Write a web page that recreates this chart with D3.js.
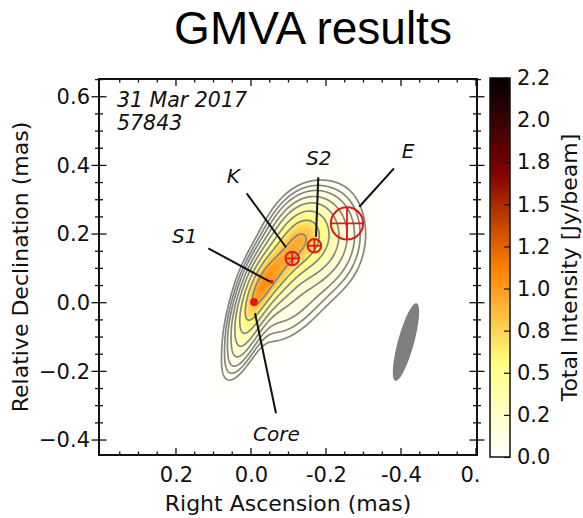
<!DOCTYPE html>
<html><head><meta charset="utf-8">
<script src="https://cdn.jsdelivr.net/npm/d3@7"></script>
<style>
html,body{margin:0;padding:0;background:#fff;}
svg{display:block;}
</style></head><body>
<svg id="chart" width="583" height="518"></svg>
<script>
// Map extent in mas (RA increases to the left)
const raLimits = [0.4053, -0.6027];
const decLimits = [-0.4436, 0.6517];

const raTickValues = [0.2, 0.0, -0.2, -0.4, -0.6];
const raTickLabels = ["0.2", "0.0", "-0.2", "-0.4", "0."];
const decTickValues = [0.6, 0.4, 0.2, 0.0, -0.2, -0.4];
const decTickLabels = ["0.6", "0.4", "0.2", "0.0", "\u22120.2", "\u22120.4"];

// Colour bar (Jy/beam)
const cbarMax = 2.2;
const cbarTickValues = [0, 0.2444, 0.4889, 0.7333, 0.9778, 1.2222, 1.4667, 1.7111, 1.9556, 2.2];
const cbarTickLabels = ["0.0", "0.2", "0.5", "0.8", "1.0", "1.2", "1.5", "1.8", "2.0", "2.2"];

// Restored brightness: elliptical Gaussian components (mas, Jy/beam, deg)
const compX     = [-0.0107, -0.064,  -0.1307,  0.024,  -0.1787, -0.2507, -0.1093];
const compY     = [ 0.0079,  0.0894,  0.1887, -0.1232,  0.1767,  0.2118, -0.0154];
const compPeak  = [ 0.65,    0.65,    0.55,    0.12,    0.30,    0.03,    0.10];
const compMajor = [ 0.078,   0.069,   0.066,   0.069,   0.080,   0.097,   0.083];
const compMinor = [ 0.025,   0.036,   0.042,   0.022,   0.057,   0.042,   0.044];
const compPA    = [ -20,     -25,     -20,     -20,     -10,     0,       -40];

// Contour levels (Jy/beam)
const contourLevels = [0.04, 0.065, 0.1, 0.16, 0.25, 0.4, 0.6, 0.85];

// Model-fit component positions (mas) and radii (mas)
const markerNames = ["Core", "S1", "K", "S2", "E"];
const markerX = [-0.008, -0.055, -0.110, -0.169, -0.256];
const markerY = [ 0.002,  0.061,  0.129,  0.166,  0.231];
const markerRadius = [0.0105, 0.0055, 0.018, 0.018, 0.043];
const markerKind = ["dot", "dot", "ring", "ring", "ring"];

// Restoring beam (full axes in mas, PA deg)
const beamX = -0.4133, beamY = -0.1145;
const beamMajor = 0.233, beamMinor = 0.043, beamPA = -14;

const epochLines = ["31 Mar 2017", "57843"];

// ---------------------------------------------------------------
const FONT = "DejaVu Sans, sans-serif";
const svg = d3.select("#chart");
const frame = {left: 99, top: 79, right: 477, bottom: 455};
const x = d3.scaleLinear().domain(raLimits).range([frame.left, frame.right]);
const y = d3.scaleLinear().domain(decLimits).range([frame.bottom, frame.top]);

function afmhotR(v) {
  const t = Math.max(0, Math.min(1, v / cbarMax));
  const s = 1 - t;
  const c = a => Math.max(0, Math.min(1, a));
  return [c(2 * s), c(2 * s - 0.5), c(2 * s - 1)];
}

function brightness(ra, dec) {
  let sum = 0;
  for (let k = 0; k < compX.length; k++) {
    const th = compPA[k] * Math.PI / 180;
    const dx = ra - compX[k], dy = dec - compY[k];
    const u = dx * Math.sin(th) + dy * Math.cos(th);
    const v = dx * Math.cos(th) - dy * Math.sin(th);
    sum += compPeak[k] * Math.exp(-0.5 * ((u / compMajor[k]) ** 2 + (v / compMinor[k]) ** 2));
  }
  return sum;
}

// Sample the map on the pixel grid of the axes
const nx = frame.right - frame.left, ny = frame.bottom - frame.top;
const values = new Float64Array(nx * ny);
for (let j = 0; j < ny; j++) {
  const dec = y.invert(frame.top + j + 0.5);
  for (let i = 0; i < nx; i++) {
    values[j * nx + i] = brightness(x.invert(frame.left + i + 0.5), dec);
  }
}

const canvas = document.createElement("canvas");
canvas.width = nx; canvas.height = ny;
const ctx = canvas.getContext("2d");
const img = ctx.createImageData(nx, ny);
for (let p = 0; p < values.length; p++) {
  const [r, g, b] = afmhotR(values[p]);
  img.data[4 * p] = Math.round(r * 255);
  img.data[4 * p + 1] = Math.round(g * 255);
  img.data[4 * p + 2] = Math.round(b * 255);
  img.data[4 * p + 3] = 255;
}
ctx.putImageData(img, 0, 0);

const defs = svg.append("defs");
defs.append("clipPath").attr("id", "axclip")
  .append("rect").attr("x", frame.left).attr("y", frame.top)
  .attr("width", nx).attr("height", ny);

const plot = svg.append("g").attr("clip-path", "url(#axclip)");
plot.append("image")
  .attr("x", frame.left).attr("y", frame.top)
  .attr("width", nx).attr("height", ny)
  .attr("preserveAspectRatio", "none")
  .attr("href", canvas.toDataURL());

const contours = d3.contours().size([nx, ny]).thresholds(contourLevels)(values);
const cpath = d3.geoPath(d3.geoIdentity().translate([frame.left, frame.top]));
plot.append("g").selectAll("path").data(contours).join("path")
  .attr("d", cpath).attr("fill", "none")
  .attr("stroke", "#858585").attr("stroke-width", 1.7).attr("stroke-linejoin", "round");

// Restoring beam
const beamPts = d3.range(0, 361, 4).map(a => {
  const t = a * Math.PI / 180, th = beamPA * Math.PI / 180;
  const u = beamMajor / 2 * Math.cos(t), v = beamMinor / 2 * Math.sin(t);
  return [x(beamX + u * Math.sin(th) + v * Math.cos(th)), y(beamY + u * Math.cos(th) - v * Math.sin(th))];
});
plot.append("path").attr("d", d3.line()(beamPts) + "Z").attr("fill", "#7f7f7f");

// Annotation leader lines and labels (mas)
const annotations = [
  {name: "K",    from: [0.0115, 0.3187],  to: [-0.0933, 0.1616], label: [0.0648, 0.3487]},
  {name: "S2",   from: [-0.1795, 0.3653], to: [-0.1733, 0.1923], label: [-0.1467, 0.4011]},
  {name: "S1",   from: [0.1139, 0.1585],  to: [-0.0507, 0.0612], label: [0.2107, 0.1739]},
  {name: "E",    from: [-0.3813, 0.3915], to: [-0.2888, 0.2796], label: [-0.4019, 0.4215]},
  {name: "Core", from: [-0.0107, -0.0309], to: [-0.0667, -0.3222], label: [-0.0053, -0.4029]}
];
const ann = svg.append("g");
ann.selectAll("line").data(annotations).join("line")
  .attr("x1", d => x(d.from[0])).attr("y1", d => y(d.from[1]))
  .attr("x2", d => x(d.to[0])).attr("y2", d => y(d.to[1]))
  .attr("stroke", "#111").attr("stroke-width", 2);
ann.selectAll("text").data(annotations).join("text")
  .attr("x", d => x(d.label[0])).attr("y", d => y(d.label[1]))
  .style("font-family", FONT).attr("font-size", 20).attr("font-style", "italic")
  .attr("fill", "#111").text(d => d.name);

// Component markers
const red = "#e8141c";
const mk = svg.append("g");
markerNames.forEach((n, i) => {
  const cx = x(markerX[i]), cy = y(markerY[i]);
  const r = Math.abs(x(markerRadius[i]) - x(0));
  if (markerKind[i] === "dot") {
    mk.append("circle").attr("cx", cx).attr("cy", cy).attr("r", r).attr("fill", red);
  } else {
    mk.append("circle").attr("cx", cx).attr("cy", cy).attr("r", r)
      .attr("fill", "none").attr("stroke", red).attr("stroke-width", 2);
    mk.append("line").attr("x1", cx - r).attr("x2", cx + r).attr("y1", cy).attr("y2", cy)
      .attr("stroke", red).attr("stroke-width", 1.8);
    mk.append("line").attr("x1", cx).attr("x2", cx).attr("y1", cy - r).attr("y2", cy + r)
      .attr("stroke", red).attr("stroke-width", 1.8);
  }
});

// Epoch text
svg.append("g").selectAll("text").data(epochLines).join("text")
  .attr("x", x(0.3573)).attr("y", (d, i) => y(0.5702) + i * 23)
  .style("font-family", FONT).attr("font-size", 20.5).attr("font-style", "italic")
  .attr("fill", "#111").text(d => d);

// Tick marks: inward on top/bottom, crossing the spine on left/right
const tk = svg.append("g").attr("stroke", "#111");
const xMinor = d3.range(-12, 8).map(k => k * 0.05);
const yMinor = d3.range(-8, 14).map(k => k * 0.05);
const isMajor = v => Math.abs(v / 0.2 - Math.round(v / 0.2)) < 1e-6;
xMinor.forEach(v => {
  const L = isMajor(v) ? 7 : 3.5, px = x(v);
  tk.append("line").attr("x1", px).attr("x2", px).attr("y1", frame.bottom).attr("y2", frame.bottom - L).attr("stroke-width", 1.3);
  tk.append("line").attr("x1", px).attr("x2", px).attr("y1", frame.top).attr("y2", frame.top + L).attr("stroke-width", 1.3);
});
yMinor.forEach(v => {
  const L = isMajor(v) ? 7.5 : 4, py = y(v);
  tk.append("line").attr("y1", py).attr("y2", py).attr("x1", frame.left - L).attr("x2", frame.left + L).attr("stroke-width", 1.3);
  tk.append("line").attr("y1", py).attr("y2", py).attr("x1", frame.right - L).attr("x2", frame.right + L).attr("stroke-width", 1.3);
});

// Tick labels via d3 axes
const xAxis = d3.axisBottom(x).tickValues(raTickValues)
  .tickFormat((d, i) => raTickLabels[i]).tickSize(0).tickPadding(12);
const gx = svg.append("g").attr("transform", `translate(0,${frame.bottom})`).call(xAxis);
gx.select(".domain").remove();
gx.selectAll("text").attr("font-size", 21).style("font-family", FONT).attr("fill", "#111");
gx.selectAll(".tick").filter((d, i) => raTickLabels[i] === "0.").select("text")
  .attr("text-anchor", "start").attr("x", -16);

const yAxis = d3.axisLeft(y).tickValues(decTickValues)
  .tickFormat((d, i) => decTickLabels[i]).tickSize(0).tickPadding(9);
const gy = svg.append("g").attr("transform", `translate(${frame.left},0)`).call(yAxis);
gy.select(".domain").remove();
gy.selectAll("text").attr("font-size", 21).style("font-family", FONT).attr("fill", "#111");

svg.append("rect").attr("x", frame.left).attr("y", frame.top)
  .attr("width", nx).attr("height", ny).attr("fill", "none")
  .attr("stroke", "#111").attr("stroke-width", 2);

svg.append("text").attr("x", (frame.left + frame.right) / 2).attr("y", 511)
  .attr("text-anchor", "middle").style("font-family", FONT).attr("font-size", 22)
  .attr("fill", "#111").text("Right Ascension (mas)");
svg.append("text").attr("transform", `translate(28,${(frame.top + frame.bottom) / 2}) rotate(-90)`)
  .attr("text-anchor", "middle").style("font-family", FONT).attr("font-size", 22)
  .attr("fill", "#111").text("Relative Declination (mas)");

svg.append("text").attr("x", 313).attr("y", 44).attr("text-anchor", "middle")
  .style("font-family", "Liberation Sans, Arial, sans-serif").attr("font-size", 46)
  .attr("fill", "#000").text("GMVA results");

// Colour bar
const cb = {left: 490, right: 510, top: 78, bottom: 457};
const cy = d3.scaleLinear().domain([0, cbarMax]).range([cb.bottom, cb.top]);
const grad = defs.append("linearGradient").attr("id", "cbgrad")
  .attr("x1", 0).attr("x2", 0).attr("y1", 1).attr("y2", 0);
d3.range(0, 1.0001, 0.02).forEach(f => {
  const [r, g, b] = afmhotR(f * cbarMax);
  grad.append("stop").attr("offset", f).attr("stop-color", d3.rgb(r * 255, g * 255, b * 255));
});
svg.append("rect").attr("x", cb.left).attr("y", cb.top)
  .attr("width", cb.right - cb.left).attr("height", cb.bottom - cb.top)
  .attr("fill", "url(#cbgrad)").attr("stroke", "#111").attr("stroke-width", 1.5);
const cAxis = d3.axisRight(cy).tickValues(cbarTickValues)
  .tickFormat((d, i) => cbarTickLabels[i]).tickSizeInner(-6).tickSizeOuter(0).tickPadding(14);
const gc = svg.append("g").attr("transform", `translate(${cb.right},0)`).call(cAxis);
gc.select(".domain").remove();
gc.selectAll("line").attr("stroke", "#111").attr("stroke-width", 1.2);
gc.selectAll("text").attr("font-size", 21).style("font-family", FONT).attr("fill", "#111").attr("x", 7);
svg.append("text").attr("transform", `translate(577,${(cb.top + cb.bottom) / 2}) rotate(-90)`)
  .attr("text-anchor", "middle").style("font-family", FONT).attr("font-size", 22)
  .attr("fill", "#111").text("Total Intensity [Jy/beam]");
</script>
</body></html>
